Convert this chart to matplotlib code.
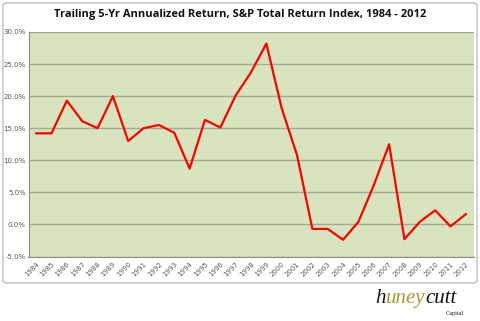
import matplotlib
matplotlib.use("Agg")
import matplotlib.pyplot as plt
from matplotlib.patches import FancyBboxPatch
from matplotlib.ticker import FuncFormatter

years = [str(y) for y in range(1984, 2013)]
returns = [14.2, 14.2, 19.3, 16.1, 15.0, 20.0, 13.0, 15.0, 15.5, 14.3,
           8.7, 16.3, 15.1, 20.1, 23.7, 28.2, 18.1, 10.8, -0.7, -0.7,
           -2.4, 0.4, 6.1, 12.5, -2.3, 0.4, 2.2, -0.3, 1.6]
y_ticks = [-5, 0, 5, 10, 15, 20, 25, 30]

fig = plt.figure(figsize=(4.8, 3.21), dpi=100)

# chart frame
frame = FancyBboxPatch((3 / 480, 38 / 321), 474 / 480, 280 / 321,
                       boxstyle="round,pad=0,rounding_size=0.008",
                       transform=fig.transFigure, facecolor="white",
                       edgecolor="#BFBFBF", linewidth=1.0, zorder=-1)
fig.patches.append(frame)

ax = fig.add_axes([28.5 / 480, 64.5 / 321, 445 / 480, 224.5 / 321])
ax.set_facecolor("#D7E4BD")
x = range(len(years))
ax.plot(x, returns, color="#FF0000", linewidth=1.6, zorder=3)

ax.set_xlim(-0.5, len(years) - 0.5)
ax.set_ylim(-5, 30)
ax.set_yticks(y_ticks)
ax.yaxis.set_major_formatter(FuncFormatter(lambda v, p: f"{v:.1f}%"))
ax.set_xticks(list(x))
ax.set_xticklabels(years, rotation=45, ha="right", rotation_mode="anchor")
ax.tick_params(axis="both", labelsize=5, colors="#595959", length=0, pad=2)
ax.tick_params(axis="x", pad=3)
ax.grid(axis="y", color="#A3AD93", linewidth=1.0)
ax.set_axisbelow(True)
for s in ["top", "right"]:
    ax.spines[s].set_visible(False)
for s in ["left", "bottom"]:
    ax.spines[s].set_color("#8C8C8C")
    ax.spines[s].set_linewidth(0.8)

fig.text(0.5, 1 - 15 / 321, "Trailing 5-Yr Annualized Return, S&P Total Return Index, 1984 - 2012",
         ha="center", va="center", fontsize=8.0, fontweight="bold",
         family="Open Sans", color="#111111")

# logo
fig.canvas.draw()
r = fig.canvas.get_renderer()
xpos = 375 / 480
ylogo = 1 - 303 / 321
for part, col in [("h", "#111111"), ("uney", "#A99B2C"), ("cutt", "#111111")]:
    t = fig.text(xpos, ylogo, part, fontsize=15, style="italic",
                 family="Liberation Serif", color=col, ha="left", va="baseline")
    bb = t.get_window_extent(r)
    xpos += bb.width / 480
fig.text(455 / 480, 1 - 315 / 321, "Capital", fontsize=4.5, family="Liberation Serif",
         color="#222222", ha="center", va="baseline")

fig.savefig("out.png", dpi=100)
